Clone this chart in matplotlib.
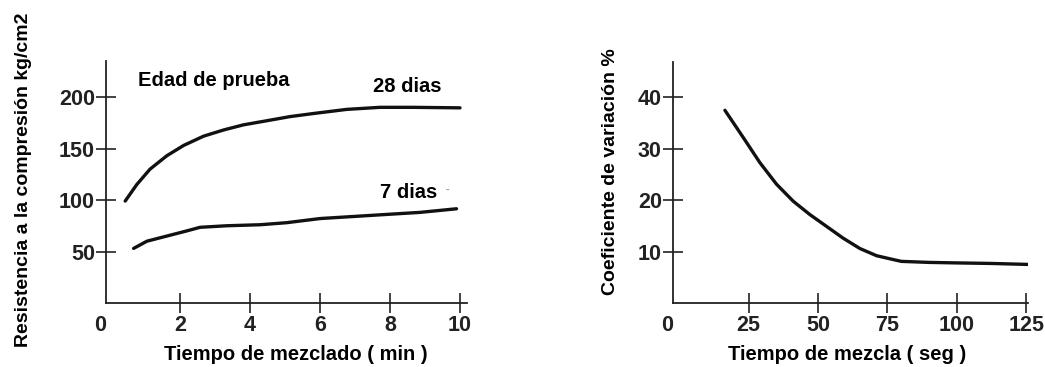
import numpy as np
import matplotlib.pyplot as plt
from matplotlib.transforms import ScaledTranslation

plt.rcParams['font.family'] = ['Liberation Sans', 'DejaVu Sans']
plt.rcParams['font.weight'] = 'bold'

# left panel: compressive strength vs mixing time
t28 = [0.43, 0.76, 1.14, 1.62, 2.10, 2.67, 3.24, 3.81, 4.48, 5.14, 5.81,
       6.76, 7.71, 8.67, 10.0]
r28 = [99, 115, 130, 143, 153, 162, 168, 173, 177, 181, 184,
       188, 190, 190, 189.5]
t7 = [0.67, 1.05, 1.62, 2.19, 2.57, 3.33, 4.29, 5.05, 6.0, 6.95, 7.9,
      8.86, 9.9]
r7 = [53, 60, 65, 70, 73.5, 75, 76, 78, 82, 84, 86, 88, 91.5]

# right panel: coefficient of variation vs mixing time
t_seg = [16.5, 23.1, 29.1, 35.1, 41.1, 47.1, 53.1, 59.1, 65.1, 71.1, 75.9,
         80, 90, 100, 112, 126]
cv = [37.5, 32.2, 27.3, 23.1, 19.8, 17.2, 14.9, 12.6, 10.6, 9.2, 8.6,
      8.1, 7.9, 7.8, 7.7, 7.5]

lw_curve = 2.4
lw_axis = 1.3
fs_tick = 15.5
fs_label = 14.5

fig = plt.figure(figsize=(10.45, 3.67), dpi=100)
ax1 = fig.add_axes([0.1014, 0.1744, 0.3455, 0.6594])
ax2 = fig.add_axes([0.644, 0.1744, 0.3397, 0.6567])


def style(ax, zero_shift):
    for s in ['top', 'right']:
        ax.spines[s].set_visible(False)
    for s in ['left', 'bottom']:
        ax.spines[s].set_linewidth(lw_axis)
        ax.spines[s].set_color('#222222')
    ax.tick_params(direction='inout', length=14, width=1.2, colors='#222222',
                   labelsize=fs_tick, pad=1)
    ax.tick_params(axis='x', pad=1.5)
    for lab in ax.get_xticklabels() + ax.get_yticklabels():
        lab.set_fontweight('bold')
    first = ax.xaxis.get_major_ticks()[0]
    first.tick1line.set_visible(False)
    first.tick2line.set_visible(False)
    # the "0" label sits a little left of the axis in the original
    off = ScaledTranslation(zero_shift / 100, 0, fig.dpi_scale_trans)
    first.label1.set_transform(first.label1.get_transform() + off)


line_kw = dict(color='#111111', lw=lw_curve, solid_capstyle='round',
               solid_joinstyle='round')

ax1.plot(t28, r28, **line_kw)
ax1.plot(t7, r7, **line_kw)
ax1.set_xlim(-0.12, 10.2)
ax1.set_ylim(0, 235)
ax1.set_xticks([0, 2, 4, 6, 8, 10])
ax1.set_yticks([50, 100, 150, 200])
style(ax1, -10)
ax1.set_xlabel('Tiempo de mezclado ( min )', fontsize=fs_label, fontweight='bold')
ax1.xaxis.set_label_coords(0.526, -0.175)
ax1.set_ylabel('Resistencia a la compresión kg/cm2', fontsize=14,
               fontweight='bold', labelpad=0)
ax1.yaxis.set_label_coords(-0.206, 0.51)
ax1.text(0.8, 216, 'Edad de prueba', fontsize=fs_label, fontweight='bold',
         va='center', ha='left')
ax1.text(7.5, 210, '28 dias', fontsize=fs_label, fontweight='bold',
         va='center', ha='left')
ax1.text(7.7, 107, '7 dias', fontsize=fs_label, fontweight='bold',
         va='center', ha='left')
ax1.text(9.6, 110, '-', fontsize=8, color='#999999', va='center', ha='left')

ax2.plot(t_seg, cv, **line_kw)
ax2.set_xlim(-2.2, 125.6)
ax2.set_ylim(0, 46.9)
ax2.set_xticks([0, 25, 50, 75, 100, 125])
ax2.set_yticks([10, 20, 30, 40])
style(ax2, -12)
ax2.set_xlabel('Tiempo de mezcla ( seg )', fontsize=fs_label, fontweight='bold')
ax2.xaxis.set_label_coords(0.49, -0.175)
ax2.set_ylabel('Coeficiente de variación %', fontsize=14,
               fontweight='bold', labelpad=0)
ax2.yaxis.set_label_coords(-0.152, 0.545)

fig.savefig('out.png', dpi=100, facecolor='white')
